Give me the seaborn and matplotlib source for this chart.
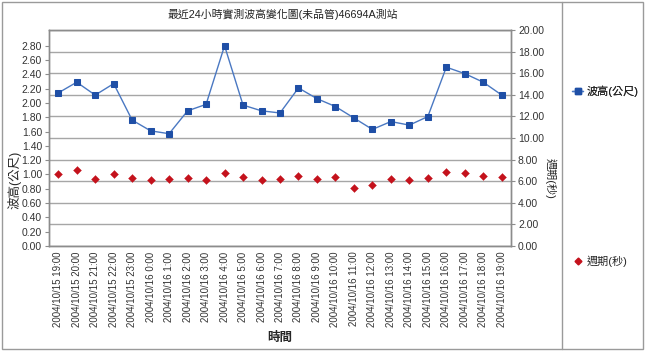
import matplotlib
matplotlib.use("Agg")
import matplotlib.pyplot as plt
from matplotlib.lines import Line2D
from matplotlib.patches import Rectangle
import numpy as np
import pandas as pd
import seaborn as sns

# data
times = ["2004/10/15 19:00", "2004/10/15 20:00", "2004/10/15 21:00", "2004/10/15 22:00",
         "2004/10/15 23:00", "2004/10/16 0:00", "2004/10/16 1:00", "2004/10/16 2:00",
         "2004/10/16 3:00", "2004/10/16 4:00", "2004/10/16 5:00", "2004/10/16 6:00",
         "2004/10/16 7:00", "2004/10/16 8:00", "2004/10/16 9:00", "2004/10/16 10:00",
         "2004/10/16 11:00", "2004/10/16 12:00", "2004/10/16 13:00", "2004/10/16 14:00",
         "2004/10/16 15:00", "2004/10/16 16:00", "2004/10/16 17:00", "2004/10/16 18:00",
         "2004/10/16 19:00"]
wave_height = [2.14, 2.29, 2.11, 2.27, 1.76, 1.61, 1.57, 1.89, 1.98, 2.80, 1.97, 1.89, 1.86,
               2.21, 2.06, 1.95, 1.79, 1.63, 1.74, 1.69, 1.81, 2.50, 2.41, 2.29, 2.11]
period = [6.70, 7.00, 6.20, 6.70, 6.30, 6.11, 6.20, 6.30, 6.11, 6.79, 6.39, 6.11, 6.20,
          6.48, 6.20, 6.39, 5.37, 5.62, 6.20, 6.11, 6.30, 6.88, 6.79, 6.48, 6.39]
left_ticks = [0.0, 0.2, 0.4, 0.6, 0.8, 1.0, 1.2, 1.4, 1.6, 1.8, 2.0, 2.2, 2.4, 2.6, 2.8]
right_ticks = [0, 2, 4, 6, 8, 10, 12, 14, 16, 18, 20]

df = pd.DataFrame({"pos": np.arange(len(times)), "time": times,
                   "height": wave_height, "period": period})

sns.set_style("white")
plt.rcParams["font.family"] = ["Liberation Sans", "Noto Sans CJK TC"]

W, H = 645, 352
fig = plt.figure(figsize=(W / 100, H / 100), dpi=100)
fig.patch.set_facecolor("white")

def px(x, y):
    return x / W, 1 - y / H

l, t = px(49, 30)
r, b = px(511, 246)
ax = fig.add_axes([l, b, r - l, t - b])
ax2 = ax.twinx()

blue_m = "#1f4fa6"
blue_l = "#4a78c2"
red = "#c4121c"
gray = "#8c8c8c"
txt = "#333333"

sns.scatterplot(data=df, x="pos", y="period", ax=ax2, marker="D", s=16,
                color=red, edgecolor=red, linewidth=0.3, legend=False, zorder=3)
sns.lineplot(data=df, x="pos", y="height", ax=ax, color=blue_l, linewidth=1.0,
             marker="s", markersize=4.5, markerfacecolor=blue_m, markeredgecolor=blue_m,
             legend=False, zorder=4)

ax.set_zorder(ax2.get_zorder() + 1)
ax.patch.set_visible(False)

ax.set_xlim(-0.5, len(times) - 0.5)
ax.set_ylim(0, 3.02)
ax2.set_ylim(0, 20)

ax.set_yticks(left_ticks)
ax.set_yticklabels([f"{v:.2f}" for v in left_ticks], fontsize=7.5, color=txt)
ax2.set_yticks(right_ticks)
ax2.set_yticklabels([f"{v:.2f}" for v in right_ticks], fontsize=7.5, color=txt)

ax.set_xticks(df["pos"])
ax.set_xticklabels(times, rotation=90, fontsize=7, color=txt)
ax.set_xticks(np.arange(-0.5, len(times), 1), minor=True)
ax.tick_params(axis="x", which="major", length=0, pad=4)
ax.tick_params(axis="x", which="minor", length=3, color=gray, direction="out")
ax.tick_params(axis="y", length=3, color=gray, direction="out", pad=2)
ax2.tick_params(axis="y", length=3, color=gray, direction="out", pad=2)

ax2.yaxis.grid(True, color="#a6a6a6", linewidth=1.0)
ax2.set_axisbelow(True)
ax.grid(False)

for a in (ax, ax2):
    for s in a.spines.values():
        s.set_color(gray)
        s.set_linewidth(1.0)
        s.set_visible(True)

ax.set_xlabel("")
ax.set_ylabel("")
ax2.set_ylabel("")

fig.text(*px(283, 14), "最近24小時實測波高變化圖(未品管)46694A測站", ha="center", va="center",
         fontsize=7.8, color="#222222")
fig.text(*px(14, 180), "波高(公尺)", rotation=90, ha="center", va="center", fontsize=9)
fig.text(*px(550, 178), "週期(秒)", rotation=270, ha="center", va="center", fontsize=8)
fig.text(*px(280, 338), "時間", ha="center", va="center", fontsize=9, fontweight="bold")

# frame and legend panel divider
x0, y0 = px(2, 349)
x1, y1 = px(643, 2)
fig.add_artist(Rectangle((x0, y0), x1 - x0, y1 - y0, transform=fig.transFigure,
                         fill=False, edgecolor="#9a9a9a", linewidth=1.0))
xd, _ = px(562, 0)
fig.add_artist(Line2D([xd, xd], [y0, y1], transform=fig.transFigure,
                      color="#9a9a9a", linewidth=1.0))

h1 = Line2D([], [], color=blue_l, marker="s", markersize=4.5,
            markerfacecolor=blue_m, markeredgecolor=blue_m, linewidth=1.0)
h2 = Line2D([], [], color=red, marker="D", markersize=3.5, linestyle="none")
leg1 = fig.legend([h1], ["波高(公尺)"], loc="center left", bbox_to_anchor=px(562, 91),
                  frameon=False, fontsize=8, handlelength=1.0, handletextpad=0.35)
fig.add_artist(leg1)
fig.legend([h2], ["週期(秒)"], loc="center left", bbox_to_anchor=px(562, 261),
           frameon=False, fontsize=8, handlelength=1.0, handletextpad=0.35)

plt.savefig("out.png", dpi=100)
